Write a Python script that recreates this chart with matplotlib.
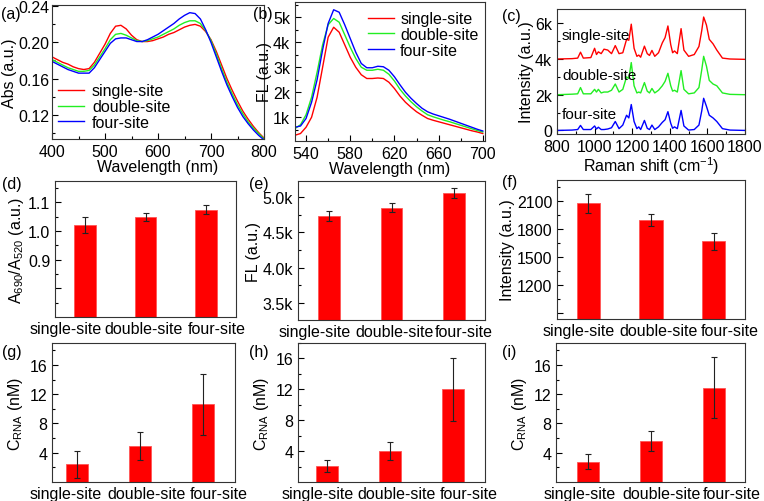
import matplotlib
matplotlib.use("Agg")
import matplotlib.pyplot as plt
from matplotlib.ticker import MultipleLocator, FuncFormatter, FixedLocator

plt.rcParams['font.family'] = ['Liberation Sans', 'DejaVu Sans']
plt.rcParams['font.size'] = 11.5
plt.rcParams['mathtext.fontset'] = 'custom'
plt.rcParams['mathtext.rm'] = 'Liberation Sans'
plt.rcParams['mathtext.it'] = 'Liberation Sans:italic'
plt.rcParams['axes.edgecolor'] = '#333333'
plt.rcParams['axes.linewidth'] = 0.8

RED = '#ff0000'
GREEN = '#22ee22'
BLUE = '#0000ff'
series_names = ['single-site', 'double-site', 'four-site']

# (a) absorption spectra
abs_wl = [400, 410, 420, 430, 440, 450, 460, 470, 480, 490, 500, 510, 520, 530, 540,
          550, 560, 570, 580, 590, 600, 610, 620, 630, 640, 650, 660, 670, 680, 690,
          700, 710, 720, 730, 740, 750, 760, 770, 780, 790, 800]
abs_single = [0.184, 0.181, 0.178, 0.176, 0.173, 0.171, 0.170, 0.171, 0.178, 0.188,
              0.198, 0.210, 0.218, 0.219, 0.215, 0.208, 0.203, 0.201, 0.201, 0.202,
              0.204, 0.206, 0.209, 0.211, 0.214, 0.217, 0.219, 0.220, 0.218, 0.212,
              0.203, 0.190, 0.175, 0.160, 0.147, 0.135, 0.124, 0.115, 0.107, 0.100, 0.094]
abs_double = [0.181, 0.178, 0.175, 0.172, 0.170, 0.168, 0.168, 0.169, 0.175, 0.184,
              0.193, 0.203, 0.209, 0.210, 0.208, 0.205, 0.202, 0.201, 0.202, 0.204,
              0.206, 0.209, 0.212, 0.215, 0.219, 0.222, 0.224, 0.224, 0.221, 0.213,
              0.202, 0.187, 0.171, 0.156, 0.143, 0.131, 0.121, 0.112, 0.105, 0.099, 0.093]
abs_four = [0.179, 0.176, 0.173, 0.170, 0.168, 0.166, 0.166, 0.166, 0.172, 0.181,
            0.190, 0.199, 0.204, 0.205, 0.205, 0.203, 0.201, 0.201, 0.203, 0.206,
            0.209, 0.213, 0.217, 0.221, 0.226, 0.230, 0.233, 0.232, 0.226, 0.214,
            0.200, 0.184, 0.168, 0.153, 0.140, 0.128, 0.118, 0.110, 0.103, 0.097, 0.092]

# (b) fluorescence spectra (a.u.)
fl_wl = [530, 535, 540, 545, 550, 555, 560, 565, 570, 575, 580, 585, 590, 595, 600,
         605, 610, 615, 620, 625, 630, 635, 640, 645, 650, 655, 660, 665, 670, 675,
         680, 685, 690, 695, 700]
fl_single = [280, 350, 600, 1000, 1800, 3000, 4200, 4600, 4400, 3900, 3400, 3000, 2700,
             2550, 2550, 2570, 2550, 2400, 2150, 1850, 1600, 1400, 1220, 1080, 950, 880,
             820, 760, 700, 640, 580, 520, 460, 410, 350]
fl_double = [550, 700, 1100, 1800, 2800, 3900, 4700, 4950, 4800, 4300, 3800, 3350, 3000,
             2880, 2880, 2920, 2880, 2720, 2450, 2120, 1850, 1620, 1420, 1250, 1100, 1020,
             950, 880, 820, 750, 680, 610, 540, 470, 410]
fl_four = [600, 650, 950, 1600, 2500, 3700, 4750, 5300, 5200, 4700, 4150, 3600, 3150,
           2980, 2980, 3040, 3020, 2880, 2620, 2300, 2000, 1760, 1550, 1360, 1220, 1130,
           1060, 990, 920, 840, 760, 680, 600, 520, 450]

# (c) Raman spectra (offset)
raman_shift = [800, 880, 910, 925, 940, 980, 1000, 1010, 1020, 1035, 1050, 1070, 1090,
               1110, 1130, 1150, 1170, 1182, 1195, 1210, 1225, 1235, 1245, 1265, 1280,
               1292, 1305, 1320, 1340, 1360, 1375, 1390, 1405, 1415, 1425, 1440, 1460,
               1475, 1500, 1530, 1555, 1570, 1580, 1595, 1610, 1630, 1650, 1680, 1720, 1800]
raman_single = [4000, 4020, 4050, 4380, 4050, 4080, 4600, 4250, 4400, 4300, 4550, 4500,
                4300, 4750, 4300, 4350, 5100, 5050, 5950, 4600, 4150, 4220, 4100, 4720,
                4300, 4200, 4480, 4150, 4350, 4900, 5200, 5850, 4800, 4350, 4450, 4300,
                5700, 4500, 4150, 4250, 4700, 5600, 6350, 5900, 5100, 4850, 4500, 4050,
                4000, 3980]
raman_double = [2000, 2030, 2050, 2400, 2050, 2050, 2300, 2150, 2300, 2100, 2150, 2150,
                2250, 2600, 2150, 2300, 3000, 2900, 3800, 2500, 2100, 2150, 2100, 2680,
                2200, 2100, 2350, 2100, 2250, 2500, 2750, 3200, 2500, 2200, 2250, 2150,
                3350, 2300, 2050, 2100, 2400, 3400, 4150, 3600, 2800, 2600, 2500, 2100,
                2020, 2000]
raman_four = [0, 20, 50, 280, 50, 50, 250, 80, 180, 50, 50, 80, 150, 500, 100, 300, 850,
              700, 1450, 500, 100, 200, 50, 560, 120, 50, 300, 50, 200, 450, 600, 1050,
              400, 120, 200, 100, 1120, 250, 20, 50, 300, 1100, 1800, 1350, 850, 700, 500,
              100, 20, 0]

# (d)-(i) bar charts
ratio_vals = [1.02, 1.05, 1.075]
ratio_err = [0.028, 0.014, 0.015]
fl_peak_vals = [4730, 4850, 5050]
fl_peak_err = [70, 60, 70]
raman_vals = [2080, 1900, 1670]
raman_err = [100, 67, 95]
crna_g = [2.4, 4.9, 10.6]
crna_g_err = [1.9, 1.9, 4.2]
crna_h = [2.1, 4.0, 12.0]
crna_h_err = [0.75, 1.2, 4.1]
crna_i = [2.8, 5.6, 12.9]
crna_i_err = [1.0, 1.4, 4.2]

W, H = 764, 502
fig = plt.figure(figsize=(W / 100, H / 100), dpi=100)


def box(x0, y0, x1, y1):
    return fig.add_axes([x0 / W, 1 - y1 / H, (x1 - x0) / W, (y1 - y0) / H])


def style(ax):
    ax.tick_params(which='both', direction='in', top=False, right=False)
    ax.tick_params(which='major', length=4, width=0.8)
    ax.tick_params(which='minor', length=2, width=0.8)


kfmt = FuncFormatter(lambda v, p: '0' if v == 0 else '{:g}k'.format(v / 1000))

# (a)
ax = box(52, 6, 264, 140)
ax.plot(abs_wl, abs_single, color=RED, lw=1, label=series_names[0])
ax.plot(abs_wl, abs_double, color=GREEN, lw=1, label=series_names[1])
ax.plot(abs_wl, abs_four, color=BLUE, lw=1, label=series_names[2])
ax.set_xlim(400, 800)
ax.set_ylim(0.093, 0.2415)
ax.xaxis.set_major_locator(MultipleLocator(100))
ax.xaxis.set_minor_locator(MultipleLocator(50))
ax.yaxis.set_major_locator(FixedLocator([0.12, 0.16, 0.20, 0.24]))
ax.yaxis.set_minor_locator(FixedLocator([0.10, 0.14, 0.18, 0.22]))
ax.yaxis.set_major_formatter(FuncFormatter(lambda v, p: '{:.2f}'.format(v)))
ax.tick_params(axis='y', pad=2)
ax.set_xlabel('Wavelength (nm)', labelpad=0)
ax.set_ylabel('Abs (a.u.)', labelpad=1)
ax.legend(loc='lower left', bbox_to_anchor=(0.0, 0.02), frameon=False,
          handlelength=1.6, handletextpad=0.5, labelspacing=0.05, borderaxespad=0)
style(ax)

# (b)
ax = box(295, 3, 485, 142)
ax.plot(fl_wl, fl_single, color=RED, lw=1, label=series_names[0])
ax.plot(fl_wl, fl_double, color=GREEN, lw=1, label=series_names[1])
ax.plot(fl_wl, fl_four, color=BLUE, lw=1, label=series_names[2])
ax.set_xlim(530, 702)
ax.set_ylim(50, 5610)
ax.xaxis.set_major_locator(FixedLocator([540, 580, 620, 660, 700]))
ax.xaxis.set_minor_locator(FixedLocator([560, 600, 640, 680]))
ax.yaxis.set_major_locator(FixedLocator([1000, 2000, 3000, 4000, 5000]))
ax.yaxis.set_minor_locator(FixedLocator([500, 1500, 2500, 3500, 4500, 5500]))
ax.yaxis.set_major_formatter(kfmt)
ax.set_xlabel('Wavelength (nm)', labelpad=0)
ax.set_ylabel('FL (a.u.)', labelpad=1)
ax.legend(loc='upper right', bbox_to_anchor=(1.0, 0.98), frameon=False,
          handlelength=1.6, handletextpad=0.4, labelspacing=0.05, borderaxespad=0)
style(ax)

# (c)
ax = box(557, 10, 745, 135)
ax.plot(raman_shift, raman_single, color=RED, lw=1)
ax.plot(raman_shift, raman_double, color=GREEN, lw=1)
ax.plot(raman_shift, raman_four, color=BLUE, lw=1)
ax.set_xlim(800, 1800)
ax.set_ylim(-200, 6800)
ax.xaxis.set_major_locator(MultipleLocator(200))
ax.xaxis.set_minor_locator(MultipleLocator(100))
ax.yaxis.set_major_locator(MultipleLocator(2000))
ax.yaxis.set_minor_locator(MultipleLocator(1000))
ax.yaxis.set_major_formatter(kfmt)
ax.set_xlabel('Raman shift (cm$^{-1}$)', labelpad=0)
ax.set_ylabel('Intensity (a.u.)', labelpad=1)
ax.text(826, 5350, series_names[0], va='center', fontsize=11)
ax.text(826, 3110, series_names[1], va='center', fontsize=11)
ax.text(826, 930, series_names[2], va='center', fontsize=11)
style(ax)

pos = [1, 2, 3]


def bars(ax, vals, errs, width, xlim, label_pos):
    ax.bar(pos, vals, width=width, color=RED, edgecolor='#ff5555', linewidth=0.6,
           yerr=errs, error_kw=dict(ecolor='#222222', elinewidth=0.8, capsize=2.2,
                                    capthick=0.8))
    ax.set_xlim(*xlim)
    ax.set_xticks(label_pos)
    ax.set_xticklabels(series_names)
    style(ax)
    ax.tick_params(axis='x', which='both', length=0, pad=3)


# (d)
ax = box(55, 182, 236, 318)
bars(ax, ratio_vals, ratio_err, 0.36, (0.5, 3.5), [0.68, 1.97, 3.18])
ax.set_ylim(0.7, 1.175)
ax.yaxis.set_major_locator(FixedLocator([0.8, 0.9, 1.0, 1.1]))
ax.yaxis.set_minor_locator(FixedLocator([0.75, 0.85, 0.95, 1.05, 1.15]))
ax.yaxis.set_major_formatter(FuncFormatter(lambda v, p: '' if v < 0.85 else '{:.1f}'.format(v)))
ax.set_ylabel('A$_{690}$/A$_{520}$ (a.u.)', labelpad=1)

# (e)
ax = box(298, 182, 485, 321)
bars(ax, fl_peak_vals, fl_peak_err, 0.345, (0.5, 3.5), [0.76, 2.05, 3.16])
ax.set_ylim(3260, 5225)
ax.yaxis.set_major_locator(MultipleLocator(500))
ax.yaxis.set_minor_locator(MultipleLocator(250))
ax.yaxis.set_major_formatter(FuncFormatter(lambda v, p: '{:.1f}k'.format(v / 1000)))
ax.set_ylabel('FL (a.u.)', labelpad=1)

# (f)
ax = box(557, 181, 745, 320)
bars(ax, raman_vals, raman_err, 0.37, (0.5, 3.5), [0.85, 2.12, 3.25])
ax.set_ylim(835, 2330)
ax.yaxis.set_major_locator(MultipleLocator(300))
ax.yaxis.set_minor_locator(MultipleLocator(150))
ax.yaxis.set_major_formatter(FuncFormatter(lambda v, p: '' if v < 1000 else '{:.0f}'.format(v)))
ax.set_ylabel('Intensity (a.u.)', labelpad=1)

# (g) (h) (i)
for (x0, x1), vals, errs, top, xlim, lpos in [
        ((52, 235), crna_g, crna_g_err, 19, (0.61, 3.5), [0.83, 2.11, 3.25]),
        ((298, 485), crna_h, crna_h_err, 18, (0.54, 3.5), [0.85, 2.1, 3.25]),
        ((556, 745), crna_i, crna_i_err, 19, (0.49, 3.49), [0.87, 2.16, 3.28])]:
    ax = box(x0, 344, x1, 483)
    bars(ax, vals, errs, 0.35, xlim, lpos)
    ax.set_ylim(0, top)
    ax.yaxis.set_major_locator(FixedLocator([4, 8, 12, 16]))
    ax.yaxis.set_minor_locator(FixedLocator([2, 6, 10, 14, 18]))
    ax.set_ylabel(r'C$_\mathregular{RNA}$ (nM)', labelpad=3)

# panel letters
for lab, x, y in [('(a)', 1, 14), ('(b)', 253, 14), ('(c)', 502, 16),
                  ('(d)', 2, 184), ('(e)', 249, 184), ('(f)', 502, 182),
                  ('(g)', 2, 352), ('(h)', 249, 352), ('(i)', 502, 352)]:
    fig.text(x / W, 1 - y / H, lab, va='center', ha='left')

fig.savefig('out.png', dpi=100)
